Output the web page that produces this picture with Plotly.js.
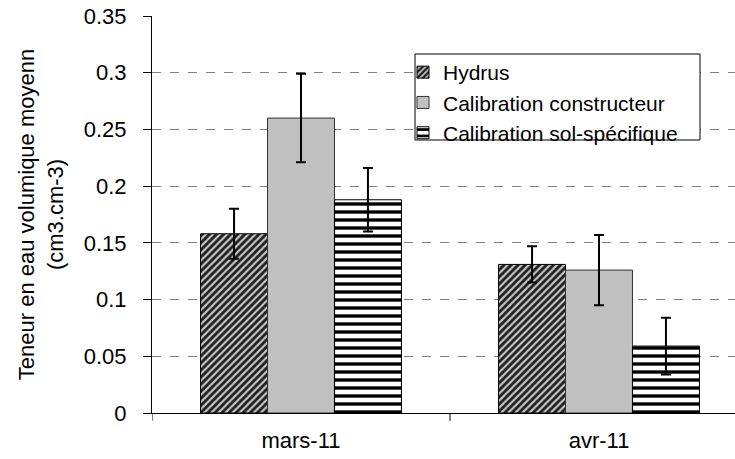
<!DOCTYPE html>
<html>
<head>
<meta charset="utf-8">
<script src="https://cdn.plot.ly/plotly-3.0.1.min.js"></script>
<style>body{margin:0;padding:0;background:#fff;} #chart{width:735px;height:459px;}</style>
</head>
<body>
<div id="chart"></div>
<script>
const categories = ["mars-11", "avr-11"];
const seriesNames = ["Hydrus", "Calibration constructeur", "Calibration sol-spécifique"];
const hydrus = [0.158, 0.131];
const hydrusErr = [0.022, 0.016];
const constructeur = [0.260, 0.126];
const constructeurErr = [0.039, 0.031];
const solSpecifique = [0.188, 0.059];
const solSpecifiqueErr = [0.028, 0.025];

const font = {family: "Liberation Sans, Arial, sans-serif", size: 22, color: "#000"};
const legendFont = {family: "Liberation Sans, Arial, sans-serif", size: 21, color: "#000"};
const errStyle = (arr) => ({type: "data", array: arr, visible: true, color: "#000", thickness: 2, width: 5});

const traces = [
  {
    type: "bar", name: seriesNames[0], x: categories, y: hydrus, error_y: errStyle(hydrusErr),
    marker: {color: "#bdbdbd", line: {color: "#000", width: 1},
      pattern: {shape: "/", fgcolor: "#1e1e1e", bgcolor: "#c4c4c4", size: 5, solidity: 0.55}}
  },
  {
    type: "bar", name: seriesNames[1], x: categories, y: constructeur, error_y: errStyle(constructeurErr),
    marker: {color: "#c0c0c0", line: {color: "#333", width: 1}}
  },
  {
    type: "bar", name: seriesNames[2], x: categories, y: solSpecifique, error_y: errStyle(solSpecifiqueErr),
    marker: {color: "#fff", line: {color: "#000", width: 1},
      pattern: {shape: "-", fgcolor: "#000", bgcolor: "#fff", size: 8, solidity: 0.42}}
  }
];

// plot spans 152..735 px; category width ~298 px (axis continues past the image edge)
const W = 735 - 152, H = 413 - 16;
const px = (v) => (v - 152) / W;
const py = (v) => (413 - v) / H;

const layout = {
  width: 735, height: 459,
  margin: {l: 152, r: 0, t: 16, b: 46},
  paper_bgcolor: "#fff", plot_bgcolor: "#fff",
  font: font,
  barmode: "group",
  bargap: 0.326, bargroupgap: 0,
  showlegend: true,
  legend: {
    x: px(403), y: py(52), xanchor: "left", yanchor: "top",
    borderwidth: 0, bgcolor: "rgba(0,0,0,0)",
    font: legendFont, itemwidth: 30, tracegroupgap: 0
  },
  xaxis: {
    type: "category",
    range: [-0.5, 1.5 - 13 / 298],
    showline: true, linecolor: "#000", linewidth: 1,
    ticks: "", showgrid: false, zeroline: false,
    tickfont: font, ticklabelstandoff: 8
  },
  yaxis: {
    range: [0, 0.35], dtick: 0.05, tick0: 0,
    showline: true, linecolor: "#000", linewidth: 1,
    ticks: "outside", ticklen: 8, tickcolor: "#000",
    showgrid: true, gridcolor: "#808080", griddash: "dash", gridwidth: 1,
    zeroline: false,
    tickfont: font, ticklabelstandoff: 12,
    title: {text: "Teneur en eau volumique moyenn<br>(cm3.cm-3)", font: font, standoff: 14}
  },
  shapes: [
    {type: "line", xref: "x", yref: "paper", x0: -0.5, x1: -0.5, y0: 0, y1: -0.02, line: {color: "#000", width: 1}},
    {type: "line", xref: "x", yref: "paper", x0: 0.5, x1: 0.5, y0: 0, y1: -0.02, line: {color: "#000", width: 1}},
    {type: "rect", xref: "paper", yref: "paper", x0: px(415), x1: px(700), y0: py(140), y1: py(54),
      fillcolor: "#fff", line: {color: "#000", width: 1}, layer: "above"}
  ]
};

Plotly.newPlot("chart", traces, layout, {displayModeBar: false, staticPlot: true});
</script>
</body>
</html>
